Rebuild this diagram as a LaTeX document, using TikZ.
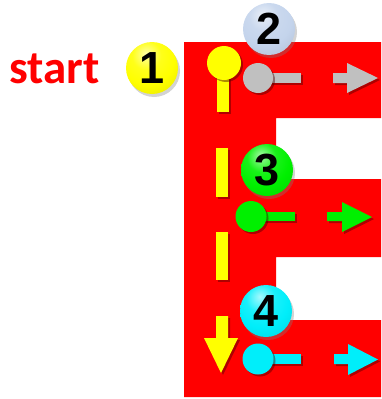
\documentclass[tikz,border=0pt]{standalone}
\usepackage{fontspec}
\setmainfont{Liberation Sans}
\newfontfamily\startfont{Carlito}
\usetikzlibrary{shadows}
\definecolor{eRed}{RGB}{255,0,0}
\definecolor{pinYellow}{RGB}{255,255,0}
\definecolor{pinGray}{RGB}{192,192,192}
\definecolor{pinGreen}{RGB}{0,240,0}
\definecolor{pinCyan}{RGB}{0,238,250}
\definecolor{badgeBlue}{RGB}{196,212,236}
\makeatletter
\pgfdeclareradialshading[tikz@ball]{glossball}{\pgfpoint{-6bp}{14bp}}{%
  color(0bp)=(tikz@ball!35!white);
  color(14bp)=(tikz@ball!90!white);
  color(26bp)=(tikz@ball);
  color(44bp)=(tikz@ball!90!black);
  color(60bp)=(tikz@ball!70!black);
  color(100bp)=(tikz@ball!60!black)}
\makeatother
\tikzset{
  shd/.style={drop shadow={shadow xshift=2pt,shadow yshift=-2pt,opacity=0.45,fill=black!70!red}},
  badge/.style={circle,minimum size=52pt,inner sep=0pt,ball color=#1,shading=glossball,
    drop shadow={shadow xshift=2pt,shadow yshift=-3pt,opacity=0.35},
    font=\bfseries\fontsize{45}{45}\selectfont,text=black},
}
\begin{document}
\begin{tikzpicture}[x=1pt,y=-1pt]
\useasboundingbox (0,0) rectangle (381,399);
% the E
\fill[eRed] (184,42) -- (381,42) -- (381,118) -- (276,118) -- (276,179) -- (381,179)
  -- (381,257) -- (276,257) -- (276,320) -- (381,320) -- (381,397) -- (184,397) -- cycle;
% yellow path
\fill[pinYellow,shd] (217,63) rectangle (229,112);
\fill[pinYellow,shd] (224,63) circle[radius=17];
\fill[pinYellow,shd] (216,148) rectangle (228,197);
\fill[pinYellow,shd] (216,232) rectangle (228,280);
\fill[pinYellow,shd] (216,316) -- (228,316) -- (228,338) -- (238,338) -- (221,373) -- (204,338) -- (216,338) -- cycle;
% gray
\fill[pinGray,shd] (258,73) rectangle (301,83);
\fill[pinGray,shd] (258,78) circle[radius=15];
\fill[pinGray,shd] (333,73) -- (347,73) -- (347,63) -- (378,78) -- (347,93) -- (347,83) -- (333,83) -- cycle;
% green
\fill[pinGreen,shd] (251,212) rectangle (295,221);
\fill[pinGreen,shd] (251,216.5) circle[radius=15.5];
\fill[pinGreen,shd] (327,212) -- (342,212) -- (342,202) -- (372,217) -- (342,232) -- (342,221) -- (327,221) -- cycle;
% cyan
\fill[pinCyan,shd] (258,354) rectangle (301,364);
\fill[pinCyan,shd] (258,359) circle[radius=15.5];
\fill[pinCyan,shd] (334,354) -- (348,354) -- (348,344) -- (378,359.5) -- (348,375) -- (348,364) -- (334,364) -- cycle;
% badges
\node[badge=pinYellow] (b1) at (152,68) {1};
\node[badge=badgeBlue] (b2) at (269,29) {2};
\node[badge=pinGreen] (b3) at (267,170) {3};
\node[badge=pinCyan] (b4) at (266,311) {4};
% start label
\node[anchor=base west,inner sep=0pt,text=eRed,font=\startfont\bfseries\fontsize{47}{47}\selectfont] (start) at (9,83) {start};
\end{tikzpicture}
\end{document}
